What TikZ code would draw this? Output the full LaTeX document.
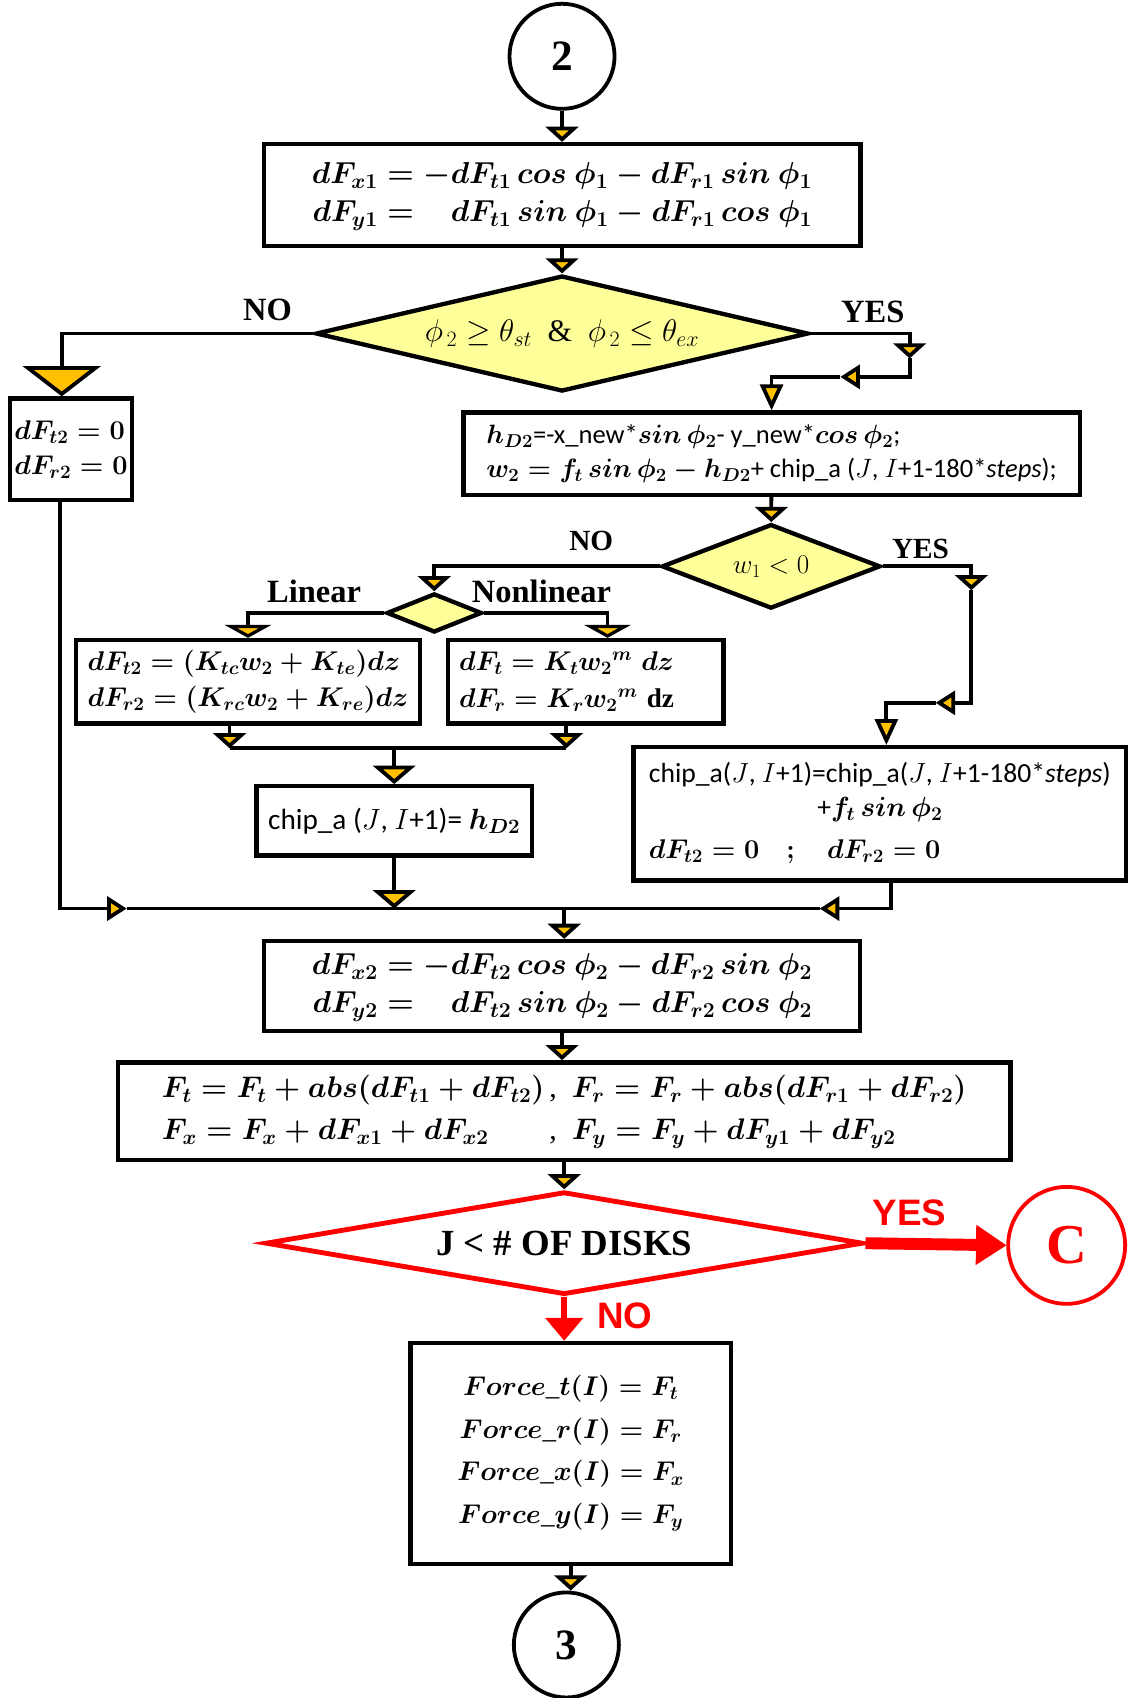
\RequirePackage{fix-cm}
\documentclass[tikz,border=0pt]{standalone}
\usepackage{fontspec}
\setmainfont{Liberation Serif}
\newfontfamily\chipfont{Carlito}
\newfontfamily\arialfont{Liberation Sans}
\usetikzlibrary{shapes.geometric,arrows.meta}
\definecolor{diayellow}{HTML}{FFFF99}
\definecolor{tipyellow}{HTML}{FFC000}
\definecolor{chartred}{HTML}{FF0000}
\newcommand\eqfont{\fontsize{25}{34}\selectfont\boldmath}
\newcommand\bigeqfont{\fontsize{28}{35}\selectfont\boldmath}
\tikzset{
  box/.style={draw, line width=4pt, inner sep=0pt, font=\eqfont},
  decide/.style={diamond, draw, line width=4pt, fill=diayellow, inner sep=0pt},
  conn/.style={circle, draw, line width=3.5pt, inner sep=0pt, minimum size=97pt, font=\fontsize{40}{44}\selectfont\bfseries},
  line/.style={line width=3.5pt},
  flow/.style={line, -{Triangle[width=30pt,length=14pt,fill=tipyellow]}},
  flowwide/.style={line, -{Triangle[width=43pt,length=12pt,fill=tipyellow]}},
  flowmid/.style={line, -{Triangle[width=39pt,length=17pt,fill=tipyellow]}},
  flowtall/.style={line, -{Triangle[width=21pt,length=24pt,fill=tipyellow]}},
  flowside/.style={line, -{Triangle[width=22pt,length=18pt,fill=tipyellow]}},
  flowbig/.style={line, -{Triangle[width=72pt,length=28pt,fill=tipyellow]}},
  lab/.style={font=\fontsize{30}{32}\selectfont\bfseries},
  redlab/.style={text=chartred, font=\arialfont\fontsize{34}{36}\selectfont\bfseries},
}
\begin{document}
\begin{tikzpicture}[x=1pt,y=-1pt]
\useasboundingbox (0,0) rectangle (1042,1568);
% main column
\node[conn] (c2) at (519,52) {2};
\node[box, minimum width=551pt, minimum height=94pt, font=\bigeqfont] (b1) at (519,180)
  {$\begin{array}{r@{\;=\;}l} dF_{x1} & -dF_{t1}\,cos\ \phi_1 - dF_{r1}\,sin\ \phi_1\\
   dF_{y1} & \phantom{-}dF_{t1}\,sin\ \phi_1 - dF_{r1}\,cos\ \phi_1\end{array}$};
\node[decide, minimum width=455pt, minimum height=107pt, aspect=4.25, font=\fontsize{29}{32}\selectfont] (d1) at (519,308)
  {$\phi_{\,2} \geq \theta_{st}$\ \ \&\ \ $\phi_{\,2} \leq \theta_{ex}$};
\node[box, minimum width=113pt, minimum height=94pt, align=left, font=\fontsize{25}{32}\selectfont\boldmath] (b0) at (65.5,415)
  {$dF_{t2} = 0$\\ $dF_{r2} = 0$};
\node[box, minimum width=569pt, minimum height=76pt, align=left, font=\chipfont\fontsize{24.5}{31}\selectfont\boldmath] (b2) at (712.5,419)
  {$h_{D2}$=-x\_new*$sin\,\phi_2$- y\_new*$cos\,\phi_2$;\\
   $w_2 = f_t\,sin\,\phi_2 - h_{D2}$+ chip\_a ({\unboldmath$J$}, {\unboldmath$I$}+1-180*\textit{steps});};
\node[decide, minimum width=202pt, minimum height=78pt, aspect=2.6, font=\fontsize{25}{30}\selectfont] (d2) at (712,523) {$w_1 < 0$};
\node[decide, minimum width=88pt, minimum height=36pt, aspect=2.44] (d3) at (401,566) {};
\node[box, minimum width=318pt, minimum height=77pt, align=left] (b3) at (229,629.5)
  {$dF_{t2} = (K_{tc}w_2 + K_{te})dz$\\ $dF_{r2} = (K_{rc}w_2 + K_{re})dz$};
\node[box, minimum width=254pt, minimum height=77pt, text width=234pt, align=left] (b4) at (541,629.5)
  {$dF_t = K_t{w_2}^m\ dz$\\ $dF_r = K_r{w_2}^m$ \textbf{dz}};
\node[box, minimum width=254pt, minimum height=64pt, font=\chipfont\fontsize{27}{32}\selectfont\boldmath] (b5) at (364,758)
  {chip\_a ({\unboldmath$J$}, {\unboldmath$I$}+1)= $h_{D2}$};
\node[box, minimum width=455pt, minimum height=123pt, font=\chipfont\fontsize{25.5}{31}\selectfont\boldmath] (b6) at (812.5,751.5)
  {\begin{tabular}{@{}l@{}}
   chip\_a({\unboldmath$J$}, {\unboldmath$I$}+1)=chip\_a({\unboldmath$J$}, {\unboldmath$I$}+1-180*\textit{steps})\\
   \multicolumn{1}{@{}c@{}}{+$f_t\,sin\,\phi_2$}\\[8pt]
   {\fontsize{25}{30}\selectfont$dF_{t2} = 0\quad ;\quad dF_{r2} = 0$}
   \end{tabular}};
\node[box, minimum width=550pt, minimum height=83pt, font=\bigeqfont] (b7) at (519,910.5)
  {$\begin{array}{r@{\;=\;}l} dF_{x2} & -dF_{t2}\,cos\ \phi_2 - dF_{r2}\,sin\ \phi_2\\
   dF_{y2} & \phantom{-}dF_{t2}\,sin\ \phi_2 - dF_{r2}\,cos\ \phi_2\end{array}$};
\node[box, minimum width=824pt, minimum height=90pt, font=\fontsize{27.5}{35}\selectfont\boldmath] (b8) at (521,1026)
  {\begin{tabular}{@{}l@{\,,\ \ }l@{}}
   $F_t = F_t + abs(dF_{t1} + dF_{t2})$ & $F_r = F_r + abs(dF_{r1} + dF_{r2})$\\[4pt]
   $F_x = F_x + dF_{x1} + dF_{x2}$ & $F_y = F_y + dF_{y1} + dF_{y2}$
   \end{tabular}};
\node[diamond, draw=chartred, line width=4.5pt, fill=white, minimum width=552pt, minimum height=95pt, aspect=5.5, inner sep=0pt,
  font=\fontsize{34}{36}\selectfont\bfseries] (d4) at (521,1148) {J < \# OF DISKS};
\node[conn, draw=chartred, text=chartred, minimum size=108pt, font=\fontsize{52}{56}\selectfont\bfseries] (cC) at (985,1150) {C};
\node[box, minimum width=296pt, minimum height=204pt, align=center, font=\fontsize{25}{39.5}\selectfont\boldmath] (b9) at (527,1342)
  {$Force\_t(I) = F_t$\\ $Force\_r(I) = F_r$\\ $Force\_x(I) = F_x$\\ $Force\_y(I) = F_y$};
\node[conn] (c3) at (523,1519) {3};
% labels
\node[lab] (no1) at (247,286) {NO};
\node[lab] (yes1) at (806,288) {YES};
\node[lab, font=\fontsize{27}{30}\selectfont\bfseries] (no2) at (546,500) {NO};
\node[lab, font=\fontsize{27}{30}\selectfont\bfseries] (yes2) at (850,507) {YES};
\node[lab] (lin) at (290,546) {Linear};
\node[lab] (nonlin) at (500,546) {Nonlinear};
\node[redlab] (yes3) at (840,1120) {YES};
\node[redlab] (no3) at (577,1215) {NO};
% joints
\coordinate (j1) at (840,331);
\coordinate (j2) at (776,348);
\coordinate (j3) at (897,545);
\coordinate (j4) at (864,649);
\coordinate (k1) at (212,691);
\coordinate (k2) at (523,691);
\coordinate (k3) at (364,691);
\coordinate (m1) at (117,839);
\coordinate (m2) at (757,839);
\coordinate (m3) at (521,839);
% connectors
\draw[flow] (c2) -- (b1);
\draw[flow] (b1) -- (d1);
\draw[flowbig] (d1.west) -| ([xshift=-8.5pt]b0.north);
\draw[flow] (d1.east) -| (j1);
\draw[flowside] (j1) |- (j2);
\draw[flowtall] (j2) -| (b2.north);
\draw[flow] (b2) -- (d2);
\draw[flow] (d2.west) -| (d3.north);
\draw[flowwide] (d3.west) -| (b3.north);
\draw[flowwide] (d3.east) -| ([xshift=20pt]b4.north);
\draw[flow] (k1 |- b3.south) -- (k1);
\draw[flow] (k2 |- b4.south) -- (k2);
\draw[line] (k1) -- (k2);
\draw[flowmid] (k3) -- (b5.north);
\draw[flowmid] (b5.south) -- (b5.south |- m1);
\draw[flow] (d2.east) -| (j3);
\draw[flowside] (j3) |- (j4);
\draw[flowtall] (j4) -| ([xshift=6pt]b6.north);
\draw[flowside] ([xshift=-10pt]b0.south) |- (m1);
\draw[line] (m1) -- (m2);
\draw[flowside] ([xshift=10pt]b6.south) |- (m2);
\draw[flow] (m3) -- (m3 |- b7.north);
\draw[flow] (b7.south) -- (b7.south |- b8.north);
\draw[flow] (b8.south) -- (b8.south |- d4.north);
\draw[chartred, line width=11pt, -{Triangle[width=37pt,length=28pt,line width=1pt]}] (d4.east) -- (cC.west);
\draw[chartred, line width=6pt, -{Triangle[width=35pt,length=21pt,line width=1pt]}] (d4.south) -- (d4.south |- b9.north);
\draw[flow] (b9.south) -- (b9.south |- c3.north);
\end{tikzpicture}
\end{document}
